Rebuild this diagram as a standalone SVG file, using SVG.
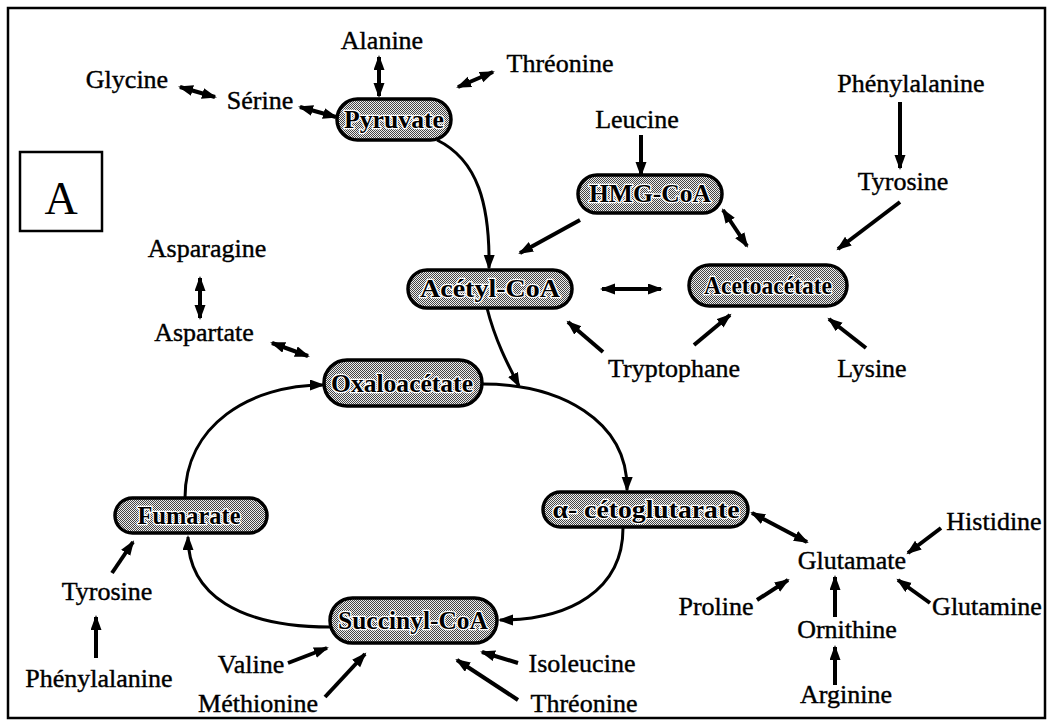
<svg xmlns="http://www.w3.org/2000/svg" width="1049" height="721" viewBox="0 0 1049 721">
<style>
.t{font-family:"Liberation Serif","Times New Roman",serif;font-size:26px;fill:#000;stroke:#000;stroke-width:0.4px;text-anchor:middle}
.nl{font-family:"Liberation Serif","Times New Roman",serif;font-size:25px;font-weight:bold;fill:#000;stroke:#fff;stroke-width:2.5px;paint-order:stroke;text-anchor:middle}
.node{fill:url(#dots);stroke:#000;stroke-width:3.5}
.a{stroke:#000;stroke-width:4;fill:none;marker-end:url(#ah)}
.d{stroke:#000;stroke-width:4;fill:none;marker-end:url(#ah);marker-start:url(#ah)}
.c{stroke:#000;stroke-width:3;fill:none;marker-end:url(#ah)}
</style>
<defs>
<pattern id="dots" width="2" height="2" patternUnits="userSpaceOnUse">
<rect width="2" height="2" fill="#eee"/>
<rect x="0" y="0" width="1" height="1" fill="#444"/>
<rect x="1" y="1" width="1" height="1" fill="#444"/>
</pattern>
<marker id="ah" markerUnits="userSpaceOnUse" markerWidth="16" markerHeight="12" refX="13" refY="5.5" orient="auto-start-reverse">
<path d="M0,0 L15,5.5 L0,11 z" fill="#000"/>
</marker>
</defs>
<rect x="0" y="0" width="1049" height="721" fill="#fff"/>
<rect x="8" y="8" width="1037" height="710" fill="none" stroke="#000" stroke-width="2.5"/>
<g id="label-A">
<rect x="20" y="152" width="82" height="79" fill="none" stroke="#000" stroke-width="2.5"/>
<text x="61" y="214" style="font-family:'Liberation Serif','Times New Roman',serif;font-size:46px;text-anchor:middle">A</text>
</g>
<g id="connectors">
<path class="c" d="M437 140 C478 160 490 205 489 268"/>
<path class="c" d="M487 308 C495 340 508 365 519 386"/>
<path class="c" d="M482 384 C560 384 628 420 627 490"/>
<path class="c" d="M623 528 C623 590 570 620 500 620"/>
<path class="c" d="M330 627 C240 627 188 595 188 537"/>
<path class="c" d="M185 498 C185 425 250 385 323 385"/>
<line class="d" x1="180" y1="87" x2="215" y2="97"/>
<line class="d" x1="300" y1="107" x2="336" y2="117"/>
<line class="d" x1="379" y1="57" x2="379" y2="96"/>
<line class="d" x1="458" y1="87" x2="493" y2="72"/>
<line class="a" x1="641" y1="135" x2="641" y2="175"/>
<line class="a" x1="900" y1="102" x2="900" y2="168"/>
<line class="a" x1="900" y1="202" x2="838" y2="249"/>
<line class="d" x1="723" y1="210" x2="747" y2="246"/>
<line class="a" x1="580" y1="220" x2="520" y2="253"/>
<line class="d" x1="602" y1="289" x2="661" y2="289"/>
<line class="a" x1="603" y1="352" x2="568" y2="322"/>
<line class="a" x1="694" y1="345" x2="730" y2="315"/>
<line class="a" x1="866" y1="348" x2="829" y2="319"/>
<line class="d" x1="200" y1="278" x2="200" y2="318"/>
<line class="d" x1="272" y1="343" x2="308" y2="356"/>
<line class="a" x1="112" y1="573" x2="133" y2="542"/>
<line class="a" x1="96" y1="658" x2="96" y2="617"/>
<line class="a" x1="288" y1="663" x2="327" y2="648"/>
<line class="a" x1="325" y1="697" x2="365" y2="654"/>
<line class="a" x1="518" y1="663" x2="482" y2="652"/>
<line class="a" x1="518" y1="700" x2="457" y2="660"/>
<line class="d" x1="752" y1="513" x2="807" y2="542"/>
<line class="a" x1="941" y1="528" x2="908" y2="553"/>
<line class="a" x1="757" y1="600" x2="788" y2="580"/>
<line class="a" x1="930" y1="603" x2="898" y2="580"/>
<line class="a" x1="835" y1="617" x2="835" y2="577"/>
<line class="a" x1="835" y1="685" x2="835" y2="647"/>
</g>
<g id="pyruvate"><rect class="node" x="337" y="99" width="114" height="41" rx="20.5"/><text class="nl" x="394" y="128" textLength="100" lengthAdjust="spacingAndGlyphs">Pyruvate</text></g>
<g id="hmgcoa"><rect class="node" x="578" y="175" width="144" height="38" rx="19"/><text class="nl" x="650" y="202" textLength="122" lengthAdjust="spacingAndGlyphs">HMG-CoA</text></g>
<g id="acetylcoa"><rect class="node" x="408" y="270" width="164" height="38" rx="19"/><text class="nl" x="490" y="297" textLength="140" lengthAdjust="spacingAndGlyphs">Acétyl-CoA</text></g>
<g id="acetoacetate"><rect class="node" x="689" y="265" width="158" height="41" rx="20.5"/><text class="nl" x="768" y="294" textLength="128" lengthAdjust="spacingAndGlyphs">Acetoacétate</text></g>
<g id="oxaloacetate"><rect class="node" x="324" y="360" width="158" height="46" rx="23"/><text class="nl" x="402" y="392" textLength="142" lengthAdjust="spacingAndGlyphs">Oxaloacétate</text></g>
<g id="cetoglutarate"><rect class="node" x="543" y="492" width="205" height="35" rx="17.5"/><text class="nl" x="646" y="518" textLength="187" lengthAdjust="spacingAndGlyphs">α- cétoglutarate</text></g>
<g id="fumarate"><rect class="node" x="115" y="498" width="152" height="35" rx="17.5"/><text class="nl" x="189" y="524" textLength="103" lengthAdjust="spacingAndGlyphs">Fumarate</text></g>
<g id="succinylcoa"><rect class="node" x="330" y="598" width="167" height="45" rx="22.5"/><text class="nl" x="413" y="629" textLength="150" lengthAdjust="spacingAndGlyphs">Succinyl-CoA</text></g>
<g id="alanine"><text class="t" x="382" y="49">Alanine</text></g>
<g id="threonine-top"><text class="t" x="560" y="72">Thréonine</text></g>
<g id="glycine"><text class="t" x="127" y="88">Glycine</text></g>
<g id="serine"><text class="t" x="260" y="109">Sérine</text></g>
<g id="leucine"><text class="t" x="637" y="128">Leucine</text></g>
<g id="phenylalanine-top"><text class="t" x="911" y="92">Phénylalanine</text></g>
<g id="tyrosine-top"><text class="t" x="903" y="190">Tyrosine</text></g>
<g id="asparagine"><text class="t" x="207" y="257">Asparagine</text></g>
<g id="aspartate"><text class="t" x="204" y="341">Aspartate</text></g>
<g id="tryptophane"><text class="t" x="674" y="377">Tryptophane</text></g>
<g id="lysine"><text class="t" x="872" y="377">Lysine</text></g>
<g id="tyrosine-bottom"><text class="t" x="107" y="600">Tyrosine</text></g>
<g id="phenylalanine-bottom"><text class="t" x="99" y="687">Phénylalanine</text></g>
<g id="valine"><text class="t" x="251" y="673">Valine</text></g>
<g id="methionine"><text class="t" x="258" y="712">Méthionine</text></g>
<g id="isoleucine"><text class="t" x="582" y="672">Isoleucine</text></g>
<g id="threonine-bottom"><text class="t" x="584" y="712">Thréonine</text></g>
<g id="glutamate"><text class="t" x="852" y="569">Glutamate</text></g>
<g id="histidine"><text class="t" x="994" y="530">Histidine</text></g>
<g id="proline"><text class="t" x="716" y="615">Proline</text></g>
<g id="glutamine"><text class="t" x="987" y="615">Glutamine</text></g>
<g id="ornithine"><text class="t" x="847" y="638">Ornithine</text></g>
<g id="arginine"><text class="t" x="846" y="703">Arginine</text></g>
</svg>
